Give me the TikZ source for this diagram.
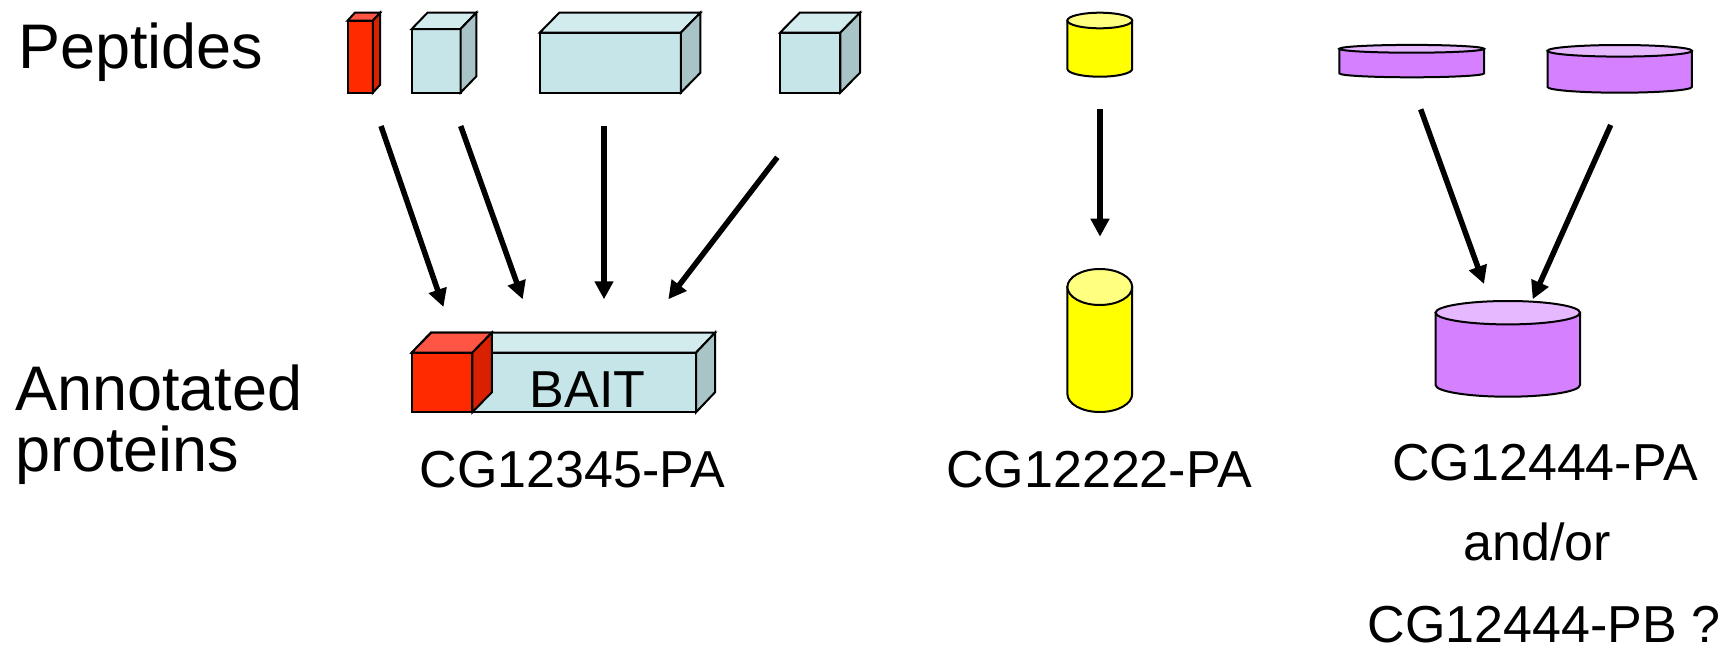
\documentclass[tikz,border=0pt]{standalone}
\usepackage{fontspec}
\setmainfont{Liberation Sans}
\usetikzlibrary{arrows.meta,calc}
\definecolor{redF}{HTML}{FF2A00}
\definecolor{redT}{HTML}{FF5545}
\definecolor{redS}{HTML}{D92000}
\definecolor{bluF}{HTML}{C5E5E8}
\definecolor{bluT}{HTML}{D2EBEC}
\definecolor{bluS}{HTML}{A8C4C6}
\definecolor{yelB}{HTML}{FFFF00}
\definecolor{yelT}{HTML}{FFFF80}
\definecolor{purB}{HTML}{D580FF}
\definecolor{purT}{HTML}{E6B8FF}
% #1 x1, #2 y top, #3 x2, #4 y bottom, #5 dx, #6 dy, #7 front, #8 top, #9 side
\newcommand\mycuboid[9]{%
  \filldraw[shapeline,fill=#7] (#1,#2) rectangle (#3,#4);
  \filldraw[shapeline,fill=#8] (#1,#2) -- ({#1+#5},{#2-#6}) -- ({#3+#5},{#2-#6}) -- (#3,#2) -- cycle;
  \filldraw[shapeline,fill=#9] (#3,#2) -- ({#3+#5},{#2-#6}) -- ({#3+#5},{#4-#6}) -- (#3,#4) -- cycle;
}
% #1 cx, #2 y top, #3 y bottom, #4 rx, #5 ry, #6 body, #7 top
\newcommand\mycyl[7]{%
  \filldraw[shapeline,fill=#6] ({#1-#4},#2) -- ({#1-#4},#3)
     arc[start angle=180,end angle=360,x radius=#4pt,y radius=#5pt] -- ({#1+#4},#2) -- cycle;
  \filldraw[shapeline,fill=#7] (#1,#2) ellipse[x radius=#4pt,y radius=#5pt];
}
\begin{document}
\begin{tikzpicture}[x=1pt,y=-1pt,
  shapeline/.style={draw=black,line width=2pt},
  bigtxt/.style={inner sep=0pt,font=\fontsize{63}{75}\selectfont},
  cgtxt/.style={inner sep=0pt,anchor=base,font=\fontsize{52}{62}\selectfont},
  arr/.style={line width=5.5pt,-{Triangle[length=18pt,width=18pt]}}]
\useasboundingbox (0,0) rectangle (1733,651);
\fill[white] (0,0) rectangle (1733,651);

% labels on the left
\node[bigtxt,anchor=base west] (pep) at (18,68.3) {Peptides};
\node[bigtxt,anchor=base west] (ann) at (15,410) {Annotated};
\node[bigtxt,anchor=base west] (pro) at (15,471) {proteins};

% peptides (cuboids)
\mycuboid{347.5}{20.7}{372.8}{92.7}{7.4}{8}{redF}{redT}{redS}
\mycuboid{411.7}{29}{460.5}{92.7}{15.8}{16.3}{bluF}{bluT}{bluS}
\mycuboid{539.7}{32.7}{680.8}{92.7}{19.6}{20}{bluF}{bluT}{bluS}
\mycuboid{780}{32.7}{840.3}{92.7}{19.7}{20}{bluF}{bluT}{bluS}

% BAIT protein
\mycuboid{411.7}{352.7}{696}{412.3}{19}{20}{bluF}{bluT}{bluS}
\mycuboid{411.7}{352.7}{472.3}{412.3}{19.5}{20}{redF}{redT}{redS}
\node[cgtxt] (bait) at (587.5,407) {BAIT};

% cylinders
\mycyl{1099.8}{20.5}{68.9}{32.4}{7.8}{yelB}{yelT}
\mycyl{1411.7}{48.8}{73.4}{72.3}{3.9}{purB}{purT}
\mycyl{1619.7}{50.8}{86.9}{72.2}{5.8}{purB}{purT}
\mycyl{1099.8}{287}{394}{32.4}{18}{yelB}{yelT}
\mycyl{1507.8}{312.7}{385}{72.2}{11.7}{purB}{purT}

% protein names
\node[cgtxt] (cg1) at (572.5,487) {CG12345-PA};
\node[cgtxt] (cg2) at (1099,487) {CG12222-PA};
\node[cgtxt] (cg3) at (1545,480) {CG12444-PA};
\node[cgtxt] (andor) at (1537,560) {and/or};
\node[cgtxt,text depth=0pt] (cg4) at (1544,642) {CG12444-PB ?};

% arrow end points
\coordinate (s1) at (381,126);     \coordinate (e1) at (443.5,307);
\coordinate (s2) at (460.7,126);   \coordinate (e2) at (522.7,299.3);
\coordinate (s3) at (604,126);     \coordinate (e3) at (604,299.3);
\coordinate (s4) at (777.3,157.3); \coordinate (e4) at (668.3,299.3);
\coordinate (sy) at (1100,109.3);  \coordinate (ey) at (1100,236.7);
\coordinate (sp1) at (1420.7,109.3); \coordinate (ep1) at (1484,284);
\coordinate (sp2) at (1610.7,125);   \coordinate (ep2) at (1532.7,299.3);

\draw[arr] (s1) -- (e1);
\draw[arr] (s2) -- (e2);
\draw[arr] (s3) -- (e3);
\draw[arr] (s4) -- (e4);
\draw[arr] (sy) -- (ey);
\draw[arr] (sp1) -- (ep1);
\draw[arr] (sp2) -- (ep2);
\end{tikzpicture}
\end{document}
